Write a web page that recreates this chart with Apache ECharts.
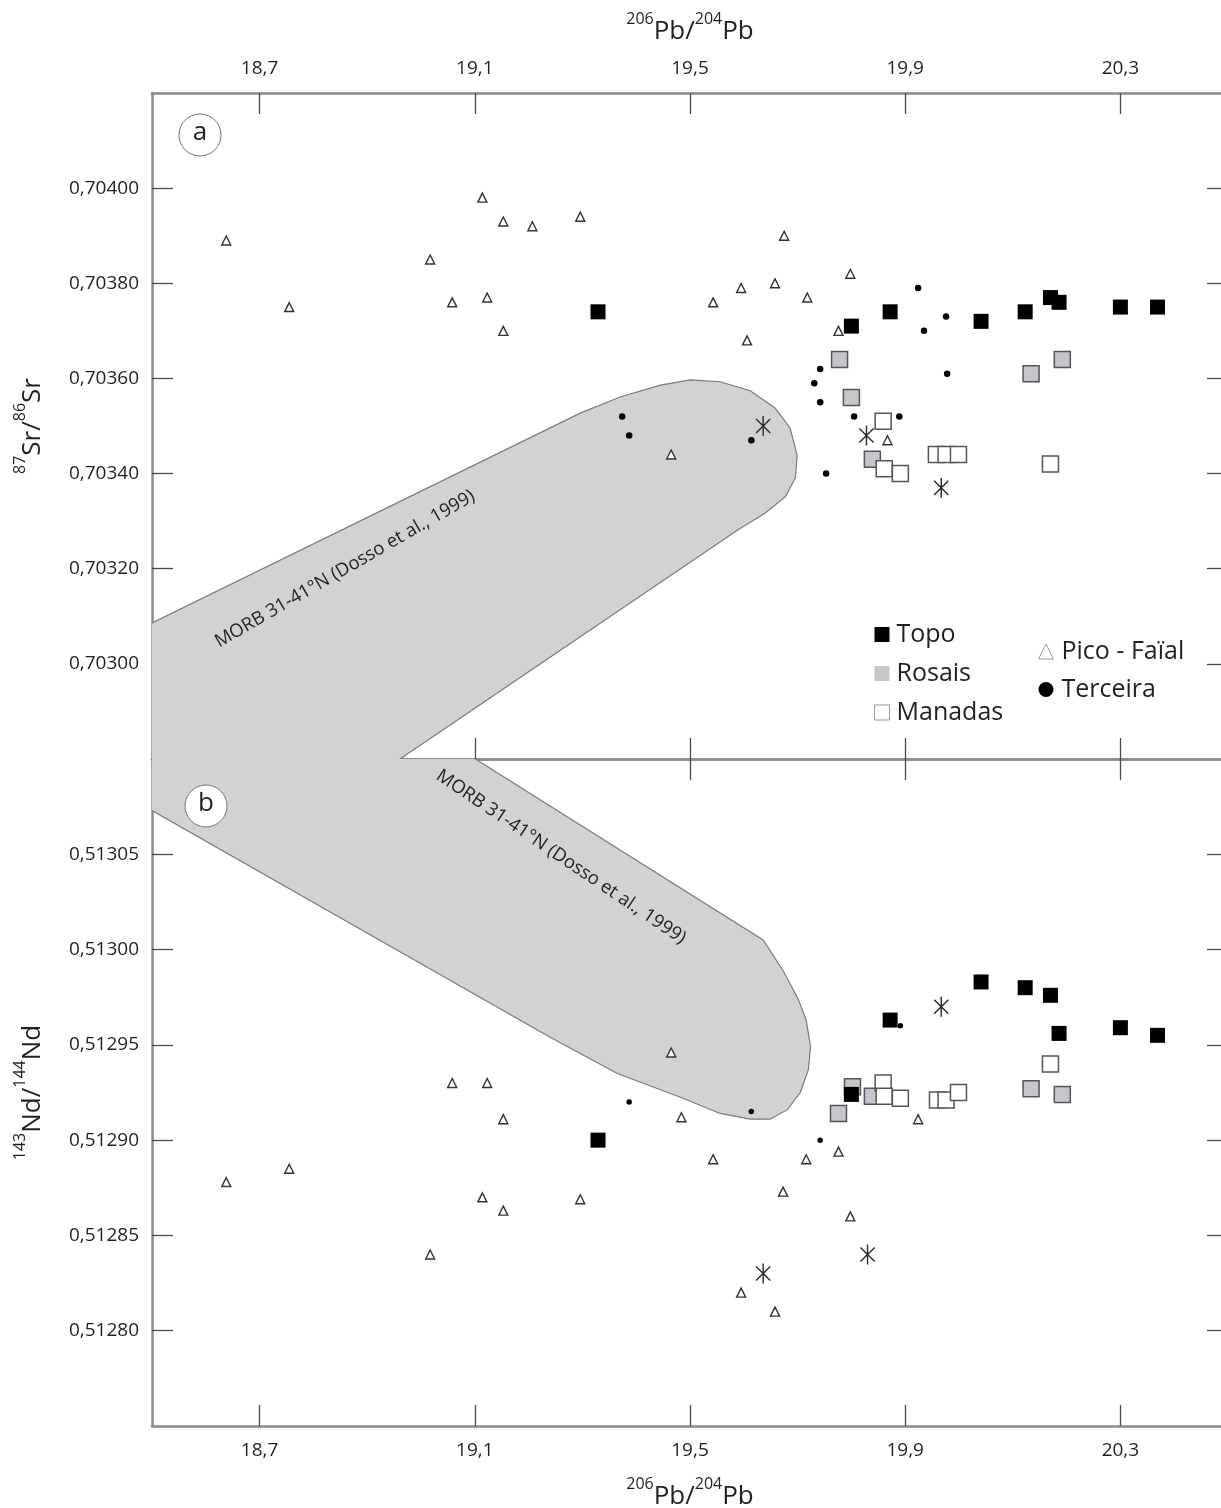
<!DOCTYPE html>
<html><head><meta charset="utf-8">
<script src="https://cdn.jsdelivr.net/npm/echarts@6/dist/echarts.min.js"></script>
<style>html,body{margin:0;padding:0;background:#fff}#c{width:1221px;height:1508px}</style>
</head><body><div id="c"></div>
<script>
// ---- tick values ----
const pbTicks = [18.7, 19.1, 19.5, 19.9, 20.3];
const srTicks = [0.703, 0.7032, 0.7034, 0.7036, 0.7038, 0.704];
const ndTicks = [0.5128, 0.51285, 0.5129, 0.51295, 0.513, 0.51305];

// ---- panel a: 206Pb/204Pb vs 87Sr/86Sr ----
const topoSr = [[19.329,0.70374],[19.800,0.70371],[19.872,0.70374],[20.041,0.70372],[20.123,0.70374],[20.170,0.70377],[20.186,0.70376],[20.300,0.70375],[20.369,0.70375]];
const rosaisSr = [[19.778,0.70364],[19.800,0.70356],[19.839,0.70343],[20.134,0.70361],[20.192,0.70364]];
const manadasSr = [[19.859,0.70351],[19.861,0.70341],[19.891,0.70340],[19.958,0.70344],[19.976,0.70344],[19.999,0.70344],[20.170,0.70342]];
const picoSr = [[18.638,0.70389],[18.755,0.70375],[19.017,0.70385],[19.058,0.70376],[19.114,0.70398],[19.123,0.70377],[19.153,0.70393],[19.153,0.70370],[19.207,0.70392],[19.296,0.70394],[19.465,0.70344],[19.543,0.70376],[19.595,0.70379],[19.606,0.70368],[19.658,0.70380],[19.675,0.70390],[19.718,0.70377],[19.776,0.70370],[19.798,0.70382],[19.867,0.70347]];
const terceiraSr = [[19.374,0.70352],[19.387,0.70348],[19.614,0.70347],[19.742,0.70362],[19.731,0.70359],[19.742,0.70355],[19.805,0.70352],[19.753,0.70340],[19.889,0.70352],[19.924,0.70379],[19.935,0.70370],[19.976,0.70373],[19.978,0.70361]];
const starSr = [[19.636,0.70350],[19.828,0.70348],[19.967,0.70337]];
const morbSr = [[18.403,0.703033],[18.5,0.703086],[19.296,0.703527],[19.370,0.703561],[19.445,0.703586],[19.500,0.703597],[19.556,0.703593],[19.612,0.703574],[19.658,0.703538],[19.686,0.703496],[19.699,0.703439],[19.696,0.703391],[19.677,0.703351],[19.640,0.703317],[19.588,0.703281],[18.961,0.702800],[18.831,0.702699],[18.403,0.702699]];

// ---- panel b: 206Pb/204Pb vs 143Nd/144Nd ----
const topoNd = [[19.329,0.512900],[19.800,0.512924],[19.872,0.512963],[20.041,0.512983],[20.123,0.512980],[20.170,0.512976],[20.186,0.512956],[20.300,0.512959],[20.369,0.512955]];
const rosaisNd = [[19.776,0.512914],[19.802,0.512928],[19.839,0.512923],[20.134,0.512927],[20.192,0.512924]];
const manadasNd = [[19.859,0.512930],[19.861,0.512923],[19.891,0.512922],[19.960,0.512921],[19.976,0.512921],[19.999,0.512925],[20.170,0.512940]];
const picoNd = [[18.638,0.512878],[18.755,0.512885],[19.017,0.512840],[19.058,0.512930],[19.114,0.512870],[19.123,0.512930],[19.153,0.512911],[19.153,0.512863],[19.296,0.512869],[19.465,0.512946],[19.484,0.512912],[19.543,0.512890],[19.595,0.512820],[19.658,0.512810],[19.673,0.512873],[19.716,0.512890],[19.776,0.512894],[19.798,0.512860],[19.924,0.512911]];
const terceiraNd = [[19.387,0.512920],[19.614,0.512915],[19.742,0.512900],[19.891,0.512960]];
const starNd = [[19.636,0.512830],[19.830,0.512840],[19.967,0.512970]];
const morbNd = [[18.926,0.513131],[19.101,0.513100],[19.636,0.513005],[19.673,0.512989],[19.701,0.512974],[19.716,0.512963],[19.724,0.512949],[19.720,0.512937],[19.705,0.512925],[19.681,0.512916],[19.649,0.512911],[19.612,0.512911],[19.556,0.512914],[19.487,0.512922],[19.365,0.512935],[19.240,0.512954],[18.5,0.513073],[18.403,0.513089],[18.403,0.513131]];

const FONT = '"Open Sans", "Noto Sans", sans-serif';
const TXT = '#231f20';
const AXC = '#8a8a8a';
const TKC = '#4a4a4a';
const STAR = 'path://M-0.7,-10L0.7,-10L0.7,10L-0.7,10ZM6.576,-7.566L7.566,-6.576L-6.576,7.566L-7.566,6.576ZM-7.566,-6.576L-6.576,-7.566L7.566,6.576L6.576,7.566Z';

const fmtPb = v => v.toFixed(1).replace('.', ',');
const fmt5 = v => v.toFixed(5).replace('.', ',');
const nameRich = {
  s: {fontFamily: FONT, fontSize: 16, color: TXT, verticalAlign: 'top', lineHeight: 16},
  b: {fontFamily: FONT, fontSize: 26, color: TXT, verticalAlign: 'bottom', lineHeight: 34}
};

function xAx(grid, pos, labels, name, gap) {
  const a = {
    type: 'value', gridIndex: grid, position: pos, min: 18.5, max: 20.5,
    axisLine: {show: true, onZero: false, lineStyle: {color: AXC, width: 2.5}},
    axisTick: {show: true, inside: true, length: 21, customValues: pbTicks, lineStyle: {color: TKC, width: 1.3}},
    axisLabel: {show: labels, customValues: pbTicks, formatter: fmtPb, fontFamily: FONT, fontSize: 19, color: TXT, margin: 15},
    splitLine: {show: false}
  };
  if (name) {
    a.name = '{s|206}{b|Pb/}{s|204}{b|Pb}';
    a.nameLocation = 'middle';
    a.nameGap = gap;
    a.nameTextStyle = {rich: nameRich};
  }
  return a;
}
function yAx(grid, pos, labels, min, max, ticks, nameParts) {
  const a = {
    type: 'value', gridIndex: grid, position: pos, min: min, max: max,
    axisLine: {show: true, onZero: false, lineStyle: {color: AXC, width: 2.5}},
    axisTick: {show: true, inside: true, length: 21, customValues: ticks, lineStyle: {color: TKC, width: 1.3}},
    axisLabel: {show: labels, customValues: ticks, formatter: fmt5, fontFamily: FONT, fontSize: 19, color: TXT, margin: 13},
    splitLine: {show: false}
  };
  if (nameParts) {
    a.name = '{s|' + nameParts[0] + '}{b|' + nameParts[1] + '/}{s|' + nameParts[2] + '}{b|' + nameParts[3] + '}';
    a.nameLocation = 'middle';
    a.nameGap = 106;
    a.nameTextStyle = {rich: nameRich};
  }
  return a;
}

function morbSeries(pts, xi, yi) {
  return {
    type: 'custom', xAxisIndex: xi, yAxisIndex: yi, clip: true, z: 1, silent: true,
    data: pts,
    renderItem: function (params, api) {
      if (params.dataIndex !== 0) return null;
      return {
        type: 'polygon',
        shape: {points: pts.map(p => api.coord(p))},
        style: {fill: '#d2d2d2', stroke: '#7a7a7a', lineWidth: 1.2}
      };
    }
  };
}
function sc(name, data, xi, yi, opts) {
  return Object.assign({type: 'scatter', name: name, data: data, xAxisIndex: xi, yAxisIndex: yi, z: 3, silent: true, animation: false}, opts);
}
const triO = {symbol: 'triangle', symbolSize: 9, itemStyle: {color: '#fff', borderColor: '#333', borderWidth: 1.4, opacity: 1}};
const dotO = {symbol: 'circle', symbolSize: 6.5, itemStyle: {color: '#000', opacity: 1}};
const starO = {symbol: STAR, symbolKeepAspect: true, symbolSize: 20, itemStyle: {color: '#2a2a2a', opacity: 1}};
const rosO = {symbol: 'rect', symbolSize: 16, itemStyle: {color: '#c5c6cc', borderColor: '#555', borderWidth: 1.5, opacity: 1}};
const manO = {symbol: 'rect', symbolSize: 16, itemStyle: {color: '#fff', borderColor: '#555', borderWidth: 1.5, opacity: 1}};
const topO = {symbol: 'rect', symbolSize: 15, itemStyle: {color: '#000', opacity: 1}};

const chart = echarts.init(document.getElementById('c'), null, {renderer: 'canvas'});
chart.setOption({
  animation: false,
  backgroundColor: '#fff',
  grid: [
    {left: 152, width: 1076, top: 93, height: 666, outerBoundsMode: 'none', containLabel: false},
    {left: 152, width: 1076, top: 759, height: 667, outerBoundsMode: 'none', containLabel: false}
  ],
  xAxis: [
    xAx(0, 'top', true, true, 48),
    xAx(0, 'bottom', false, false),
    xAx(1, 'top', false, false),
    xAx(1, 'bottom', true, true, 50)
  ],
  yAxis: [
    yAx(0, 'left', true, 0.7028, 0.7042, srTicks, ['87', 'Sr', '86', 'Sr']),
    yAx(0, 'right', false, 0.7028, 0.7042, srTicks, null),
    yAx(1, 'left', true, 0.51275, 0.5131, ndTicks, ['143', 'Nd', '144', 'Nd']),
    yAx(1, 'right', false, 0.51275, 0.5131, ndTicks, null)
  ],
  legend: [
    {orient: 'vertical', left: 869, top: 617, itemWidth: 15, itemHeight: 15, itemGap: 14, selectedMode: false,
     textStyle: {fontFamily: FONT, fontSize: 25, color: TXT, padding: [0, 0, 0, 2]},
     data: [
       {name: 'Topo', icon: 'rect', itemStyle: {color: '#000', borderWidth: 0, opacity: 1}},
       {name: 'Rosais', icon: 'rect', itemStyle: {color: '#c5c6cc', borderWidth: 0, opacity: 1}},
       {name: 'Manadas', icon: 'rect', itemStyle: {color: '#fff', borderColor: '#999', borderWidth: 1, opacity: 1}}
     ]},
    {orient: 'vertical', left: 1033, top: 634, itemWidth: 15, itemHeight: 15, itemGap: 13, selectedMode: false,
     textStyle: {fontFamily: FONT, fontSize: 25, color: TXT, padding: [0, 0, 0, 3]},
     data: [
       {name: 'Pico - Faïal', icon: 'triangle', itemStyle: {color: '#fff', borderColor: '#999', borderWidth: 1, opacity: 1}},
       {name: 'Terceira', icon: 'circle', itemStyle: {color: '#000', borderWidth: 0, opacity: 1}}
     ]}
  ],
  graphic: [
    {type: 'circle', shape: {cx: 200, cy: 135, r: 21}, style: {fill: '#fff', stroke: '#777', lineWidth: 1}, z: 10},
    {type: 'text', x: 200, y: 133, style: {text: 'a', fontFamily: FONT, fontSize: 26, fill: TXT, align: 'center', verticalAlign: 'middle'}, z: 11},
    {type: 'circle', shape: {cx: 206, cy: 806, r: 21}, style: {fill: '#fff', stroke: '#777', lineWidth: 1}, z: 10},
    {type: 'text', x: 206, y: 804, style: {text: 'b', fontFamily: FONT, fontSize: 26, fill: TXT, align: 'center', verticalAlign: 'middle'}, z: 11},
    {type: 'text', x: 345, y: 569, rotation: 30 * Math.PI / 180, style: {text: 'MORB 31-41°N (Dosso et al., 1999)', fontFamily: FONT, fontSize: 18.5, fill: TXT, align: 'center', verticalAlign: 'middle'}, z: 10},
    {type: 'text', x: 561, y: 857, rotation: -34 * Math.PI / 180, style: {text: 'MORB 31-41°N (Dosso et al., 1999)', fontFamily: FONT, fontSize: 18.5, fill: TXT, align: 'center', verticalAlign: 'middle'}, z: 10}
  ],
  series: [
    morbSeries(morbSr, 0, 0),
    morbSeries(morbNd, 3, 2),
    sc('Pico - Faïal', picoSr, 0, 0, triO),
    sc('Terceira', terceiraSr, 0, 0, dotO),
    sc('Asterisk', starSr, 0, 0, starO),
    sc('Rosais', rosaisSr, 0, 0, rosO),
    sc('Manadas', manadasSr, 0, 0, manO),
    sc('Topo', topoSr, 0, 0, topO),
    sc('Pico - Faïal', picoNd, 3, 2, triO),
    sc('Terceira', terceiraNd, 3, 2, Object.assign({}, dotO, {symbolSize: 5.5})),
    sc('Asterisk', starNd, 3, 2, starO),
    sc('Rosais', rosaisNd, 3, 2, rosO),
    sc('Manadas', manadasNd, 3, 2, manO),
    sc('Topo', topoNd, 3, 2, topO)
  ]
});
</script></body></html>
